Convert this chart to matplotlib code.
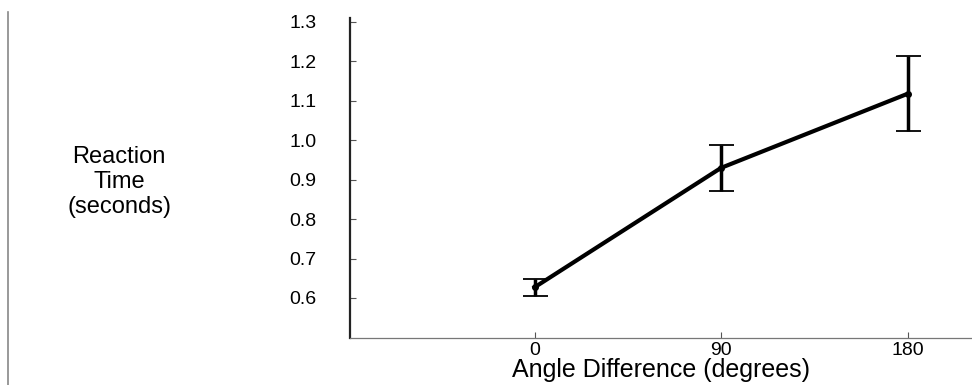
import matplotlib.pyplot as plt
from matplotlib.lines import Line2D

# reaction time vs angle difference
angles = [0, 90, 180]
rt_mean = [0.627, 0.930, 1.118]
rt_err = [0.022, 0.058, 0.095]
yticks = [0.6, 0.7, 0.8, 0.9, 1.0, 1.1, 1.2, 1.3]

plt.rcParams['font.family'] = ['Liberation Sans', 'DejaVu Sans']

fig = plt.figure(figsize=(9.72, 3.85), dpi=100)
ax = fig.add_axes([350 / 972, 1 - 338 / 385, 1 - 350 / 972, (338 - 18) / 385])

ax.errorbar(angles, rt_mean, yerr=rt_err, color='black', linewidth=3,
            elinewidth=2.5, capsize=9, capthick=1.3,
            marker='o', markersize=4)

ax.set_xlim(-89, 211)
ax.set_ylim(0.4985, 1.31)
ax.set_xticks(angles)
ax.set_xticklabels([str(a) for a in angles])
ax.set_yticks(yticks)
ax.set_yticklabels(['%.1f' % v for v in yticks])

# only left and bottom axis lines
ax.spines['top'].set_visible(False)
ax.spines['right'].set_visible(False)
ax.spines['left'].set_linewidth(1.6)
ax.spines['left'].set_color('#222222')
ax.spines['bottom'].set_linewidth(0.9)
ax.spines['bottom'].set_color('#777777')

ax.tick_params(axis='y', direction='in', length=4, width=0.8, color='#555555',
               pad=24, labelsize=14)
ax.tick_params(axis='x', direction='in', length=4, width=0.8, color='#555555',
               pad=3, labelsize=14)

ax.set_xlabel('Angle Difference (degrees)', fontsize=18, labelpad=-1)
fig.text(119 / 972, 1 - 182 / 385, 'Reaction\nTime\n(seconds)', fontsize=17,
         ha='center', va='center', linespacing=1.15)

# thin frame line on the far left
fig.add_artist(Line2D([8 / 972, 8 / 972], [0, 1 - 12 / 385],
                      transform=fig.transFigure, color='#888888', linewidth=1.2))

plt.savefig('out.png', dpi=100)
